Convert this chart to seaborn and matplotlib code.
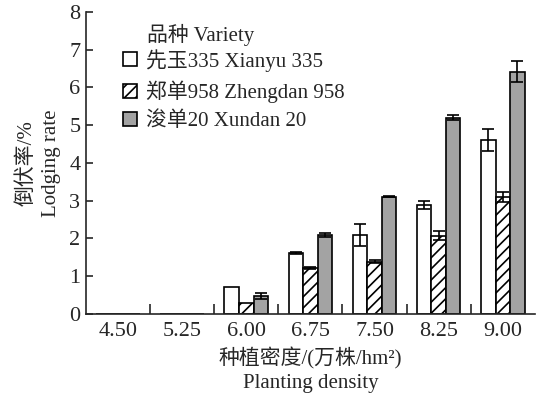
import seaborn as sns
import matplotlib.pyplot as plt
import pandas as pd
import numpy as np

# planting density (10^4 plants/hm2)
densities = ['4.50', '5.25', '6.00', '6.75', '7.50', '8.25', '9.00']
varieties = ['先玉335 Xianyu 335', '郑单958 Zhengdan 958', '浚单20 Xundan 20']

# lodging rate (%) and error, one list per variety
xianyu = [0, 0, 0.71, 1.61, 2.09, 2.89, 4.61]
xianyu_err = [0, 0, 0.0, 0.03, 0.30, 0.10, 0.30]
zhengdan = [0, 0, 0.30, 1.21, 1.39, 2.07, 3.10]
zhengdan_err = [0, 0, 0.0, 0.03, 0.05, 0.12, 0.14]
xundan = [0, 0, 0.48, 2.09, 3.11, 5.20, 6.42]
xundan_err = [0, 0, 0.07, 0.06, 0.02, 0.06, 0.28]

sns.set_style('ticks')
plt.rcParams['font.family'] = ['Liberation Serif', 'Noto Sans CJK SC']
plt.rcParams['hatch.linewidth'] = 1.2
plt.rcParams['axes.unicode_minus'] = False

df = pd.DataFrame({
    'density': densities * 3,
    'rate': xianyu + zhengdan + xundan,
    'variety': [v for v in varieties for _ in densities],
})
errs = xianyu_err + zhengdan_err + xundan_err

fig = plt.figure(figsize=(5.37, 3.95), dpi=100)
ax = fig.add_axes([0.160, 0.205, 0.836, 0.765])

sns.barplot(data=df, x='density', y='rate', hue='variety', order=densities,
            hue_order=varieties, palette=['white', 'white', '#a3a3a3'],
            edgecolor='black', linewidth=1.2, width=0.68, errorbar=None,
            saturation=1, ax=ax)

bars = ax.patches[:len(df)]
for i, p in enumerate(bars):
    if df['variety'][i] == varieties[1]:
        p.set_hatch('///')

# error bars on top of each bar
for p, e in zip(bars, errs):
    if e > 0:
        ax.errorbar(p.get_x() + p.get_width() / 2, p.get_height(), yerr=e,
                    color='black', capsize=4.5, elinewidth=1.2, capthick=1.2)

ax.set_xlim(-0.5, 6.5)
ax.set_ylim(0, 8)
ax.set_yticks(range(0, 9))
ax.tick_params(axis='y', direction='in', length=5, width=1.2, labelsize=16, pad=4)
ax.tick_params(axis='x', which='major', length=0, labelsize=16, pad=6)
ax.set_xticks(np.arange(0.5, 6, 1), minor=True)
ax.tick_params(axis='x', which='minor', direction='in', length=7, width=1.2)
for s in ['left', 'bottom']:
    ax.spines[s].set_linewidth(1.2)
sns.despine(ax=ax)

ax.set_xlabel('种植密度/(万株/hm²)\nPlanting density', fontsize=15, labelpad=4,
              linespacing=1.35)
ax.set_ylabel('倒伏率/%\nLodging rate', fontsize=15, labelpad=6, linespacing=1.35)

handles, labels = ax.get_legend_handles_labels()
handles[1].set_hatch('///')
ax.legend(handles, labels, loc='upper left', bbox_to_anchor=(0.065, 0.905),
          frameon=False, fontsize=15, handlelength=0.65, handleheight=0.65,
          handletextpad=0.45, labelspacing=0.42, borderaxespad=0)
ax.text(0.135, 0.925, '品种 Variety', transform=ax.transAxes, fontsize=15,
        ha='left', va='center')

fig.savefig('out.png', dpi=100)
